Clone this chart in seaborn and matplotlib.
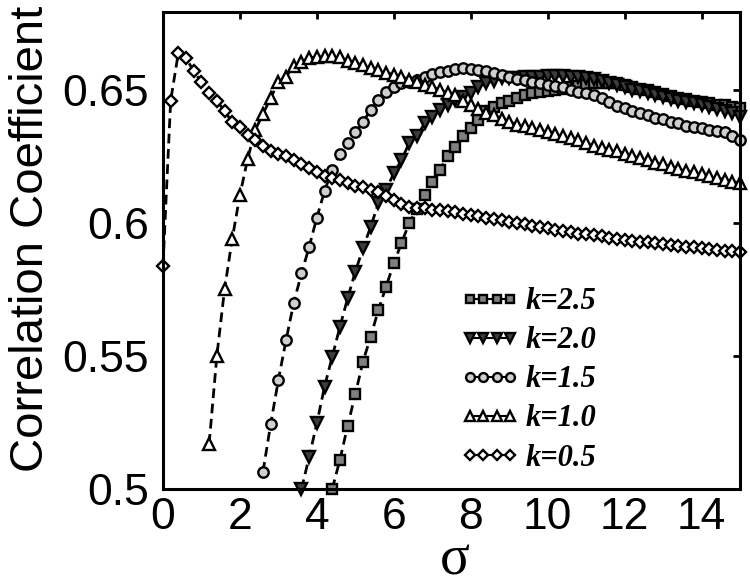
import numpy as np
import pandas as pd
import matplotlib
matplotlib.use("Agg")
import matplotlib.pyplot as plt
import seaborn as sns

# ---------------- data ----------------
sigma = np.round(np.arange(0, 15.0001, 0.2), 1)   # sampling grid of sigma
NA = np.nan

k05 = [0.584, 0.646, 0.664, 0.662, 0.657, 0.653, 0.649, 0.646, 0.642, 0.638,
       0.636, 0.633, 0.631, 0.629, 0.627, 0.626, 0.625, 0.6235, 0.622, 0.6205,
       0.619, 0.6175, 0.617, 0.616, 0.615, 0.614, 0.6135, 0.6125, 0.6115, 0.610,
       0.6085, 0.607, 0.606, 0.6057, 0.6055, 0.605, 0.6047, 0.6045, 0.604, 0.6035,
       0.603, 0.6025, 0.602, 0.6015, 0.601, 0.6005, 0.600, 0.5995, 0.599, 0.5985,
       0.598, 0.5975, 0.597, 0.5965, 0.596, 0.5957, 0.5953, 0.595, 0.5945, 0.594,
       0.5937, 0.5933, 0.593, 0.5927, 0.5923, 0.592, 0.5917, 0.5914, 0.5911, 0.5908,
       0.5905, 0.5902, 0.5899, 0.5896, 0.5894, 0.5892]

k10 = [NA] * 6 + [
       0.517, 0.550, 0.575, 0.594, 0.6105, 0.624, 0.635, 0.641, 0.647, 0.653,
       0.655, 0.659, 0.6606, 0.662, 0.6625, 0.6627, 0.6627, 0.6622, 0.661, 0.660,
       0.6594, 0.6582, 0.6575, 0.6565, 0.6557, 0.655, 0.6538, 0.6528, 0.652, 0.651,
       0.650, 0.649, 0.648, 0.646, 0.6445, 0.643, 0.6415, 0.6405, 0.639, 0.638,
       0.637, 0.6363, 0.6357, 0.635, 0.634, 0.6333, 0.6325, 0.632, 0.631, 0.630,
       0.629, 0.6283, 0.6275, 0.627, 0.626, 0.625, 0.6243, 0.6235, 0.6227, 0.622,
       0.621, 0.6202, 0.6195, 0.619, 0.6183, 0.6177, 0.617, 0.6163, 0.6155, 0.615]

k15 = [NA] * 13 + [
       0.5065, 0.5244, 0.541, 0.556, 0.570, 0.581, 0.591, 0.602, 0.612, 0.620,
       0.626, 0.630, 0.6343, 0.638, 0.6425, 0.6462, 0.6494, 0.6512, 0.6525, 0.6531,
       0.6538, 0.655, 0.656, 0.6567, 0.657, 0.6578, 0.6582, 0.658, 0.6575, 0.657,
       0.6562, 0.6555, 0.655, 0.6542, 0.6538, 0.653, 0.6525, 0.652, 0.6515, 0.651,
       0.650, 0.6494, 0.6488, 0.648, 0.647, 0.6455, 0.644, 0.6432, 0.642, 0.6412,
       0.6405, 0.6395, 0.639, 0.638, 0.6375, 0.6365, 0.636, 0.6355, 0.635, 0.6345,
       0.634, 0.6325, 0.6312]

k20 = [NA] * 18 + [
       0.500, 0.512, 0.5247, 0.5385, 0.5497, 0.561, 0.5717, 0.5817, 0.5905, 0.5986,
       0.6074, 0.6124, 0.6187, 0.6237, 0.630, 0.6325, 0.6375, 0.640, 0.6425, 0.6444,
       0.6462, 0.6475, 0.6488, 0.651, 0.6525, 0.6535, 0.6544, 0.6545, 0.6545, 0.6547,
       0.655, 0.655, 0.6552, 0.6552, 0.6552, 0.655, 0.6548, 0.6545, 0.654, 0.6532,
       0.6525, 0.6517, 0.651, 0.650, 0.6495, 0.6488, 0.648, 0.6472, 0.6465, 0.646,
       0.6455, 0.645, 0.6443, 0.6437, 0.643, 0.6422, 0.6413, 0.640]

k25 = [NA] * 22 + [
       0.500, 0.511, 0.5237, 0.5357, 0.5479, 0.5573, 0.5673, 0.5761, 0.5848, 0.5924,
       0.600, 0.6051, 0.6105, 0.6155, 0.620, 0.625, 0.6287, 0.6325, 0.6356, 0.6387,
       0.6419, 0.6437, 0.645, 0.646, 0.6469, 0.648, 0.6488, 0.6492, 0.6495, 0.650,
       0.6505, 0.651, 0.6515, 0.652, 0.6525, 0.6527, 0.6527, 0.6525, 0.652, 0.6512,
       0.6505, 0.650, 0.6493, 0.6485, 0.6478, 0.647, 0.6465, 0.646, 0.6455, 0.645,
       0.6445, 0.6442, 0.6437, 0.6431]

labels = ["k=2.5", "k=2.0", "k=1.5", "k=1.0", "k=0.5"]
series = [k25, k20, k15, k10, k05]
markers = ["s", "v", "o", "^", "D"]
faces = ["#808080", "#3c3c3c", "#cfcfcf", "#ffffff", "#ffffff"]
msizes = [7.5, 8.5, 7.5, 8.5, 6.5]

xticks = [0, 2, 4, 6, 8, 10, 12, 14]
yticks = [0.5, 0.55, 0.6, 0.65]
yticklabels = ["0.5", "0.55", "0.6", "0.65"]

# ---------------- figure ----------------
sns.set_style("white")
plt.rcParams["font.family"] = ["Liberation Sans", "DejaVu Sans"]
plt.rcParams["text.color"] = "black"
plt.rcParams["axes.labelcolor"] = "black"

fig = plt.figure(figsize=(7.5, 5.87), dpi=100)
ax = fig.add_axes([0.2173, 0.1670, 0.7694, 0.8126])

for lab, vals, mk, fc, ms in zip(labels, series, markers, faces, msizes):
    df = pd.DataFrame({"sigma": sigma, "cc": vals}).dropna()
    sns.lineplot(data=df, x="sigma", y="cc", ax=ax, color="black",
                 linestyle=(0, (3.5, 2.0)), linewidth=2.0,
                 marker=mk, markersize=ms, markerfacecolor=fc,
                 markeredgecolor="black", markeredgewidth=1.7,
                 label=lab, clip_on=False, estimator=None, sort=False)

ax.set_xlim(0, 15)
ax.set_ylim(0.5, 0.6793)
ax.set_xticks(xticks)
ax.set_xticklabels([str(t) for t in xticks])
ax.set_yticks(yticks)
ax.set_yticklabels(yticklabels)

ax.tick_params(axis="both", direction="in", length=5, width=2,
               labelsize=32, top=True, right=True, colors="black",
               labelcolor="black")
ax.tick_params(axis="x", pad=6)
ax.tick_params(axis="y", pad=10)
for sp in ax.spines.values():
    sp.set_visible(True)
    sp.set_linewidth(2.2)
    sp.set_color("black")

ax.set_xlabel("σ", fontsize=40, color="black",
              family=["Liberation Serif", "DejaVu Serif"])
ax.xaxis.set_label_coords(0.506, -0.095)
ax.set_ylabel("Correlation Coefficient", fontsize=34, color="black")
ax.yaxis.set_label_coords(-0.19, 0.525)

leg = ax.legend(loc="upper left", bbox_to_anchor=(0.49, 0.455),
                frameon=False, numpoints=4, handlelength=1.9,
                handletextpad=0.2, labelspacing=0.33, borderpad=0.0,
                markerscale=0.85,
                prop={"family": "Liberation Serif", "style": "italic",
                      "weight": "bold", "size": 22})
for txt in leg.get_texts():
    txt.set_color("black")
for ln in leg.get_lines():
    ln.set_linestyle("-")
    ln.set_linewidth(1.5)

fig.savefig("out.png", dpi=100)
